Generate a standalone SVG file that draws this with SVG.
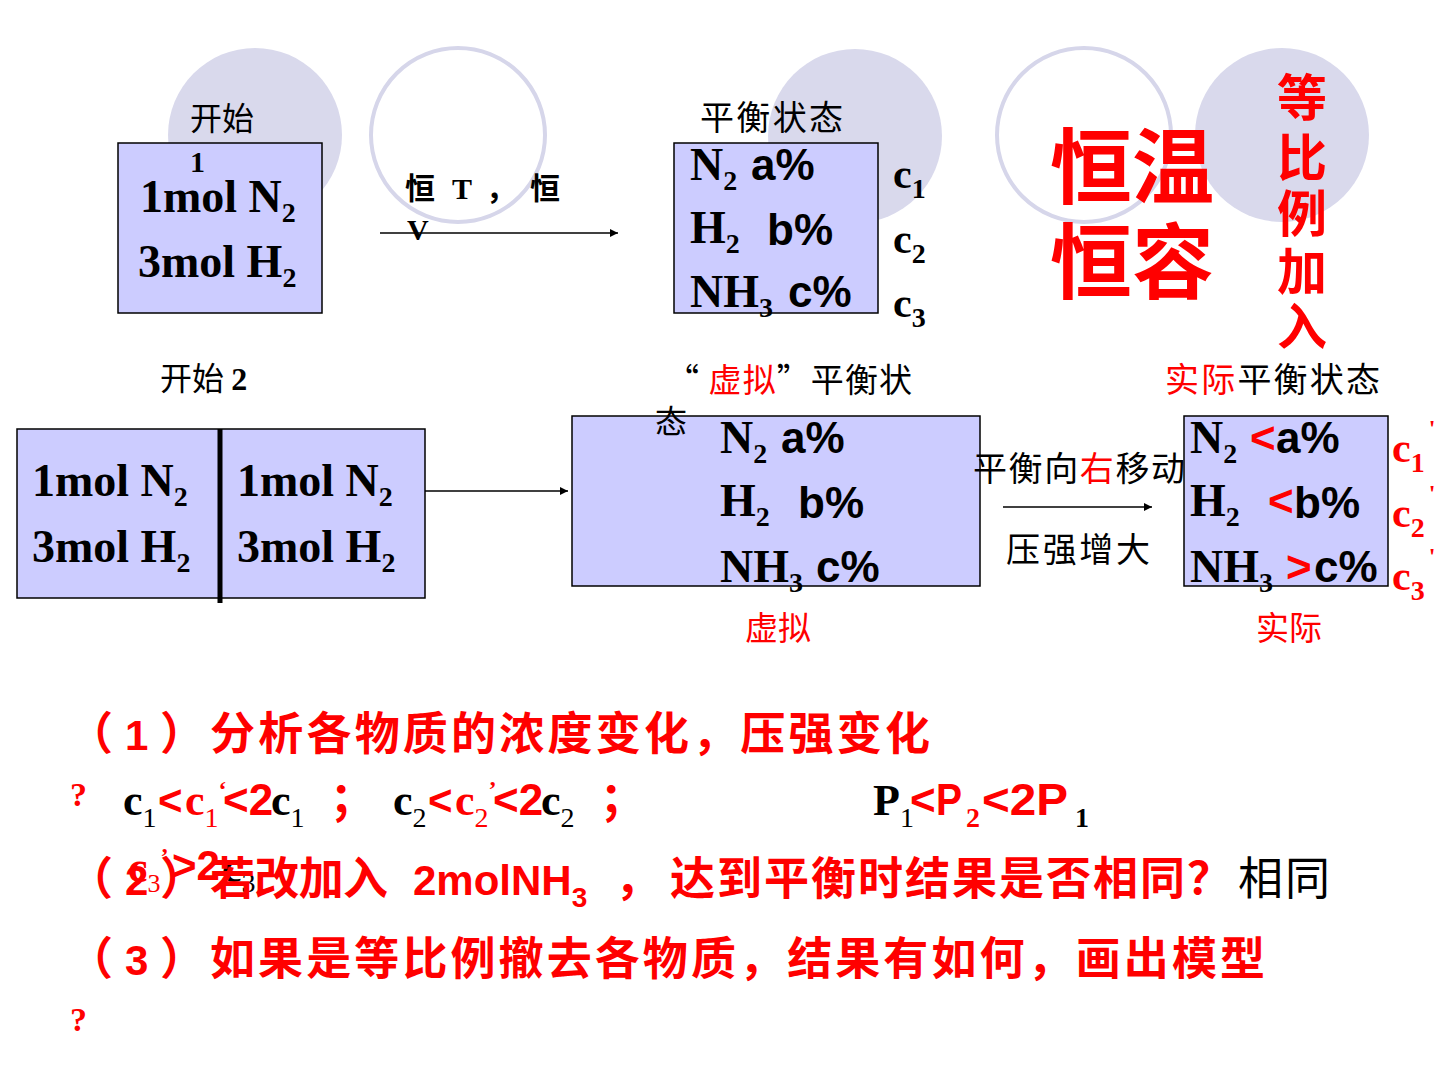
<svg xmlns="http://www.w3.org/2000/svg" width="1440" height="1080" viewBox="0 0 1440 1080">
<defs>
<marker id="ah" viewBox="0 0 10 10" refX="10" refY="5" markerWidth="10" markerHeight="8" markerUnits="userSpaceOnUse" orient="auto"><path d="M0,0 L10,5 L0,10 z" fill="#000"/></marker>
<style>
.cf{fill:#d9d9ec}
.co{fill:none;stroke:#d6d6ea;stroke-width:4}
.box{fill:#ccccff;stroke:#000;stroke-width:1.5}
.ser{font-family:"Liberation Serif","Noto Sans CJK SC",serif;font-weight:bold;fill:#000}
.san{font-family:"Liberation Sans","Noto Sans CJK SC",sans-serif;font-weight:bold;fill:#000}
.cjk{font-family:"Noto Sans CJK SC","Liberation Sans",sans-serif;fill:#000}
.q{font-family:"Noto Sans CJK SC","Liberation Sans",sans-serif;font-weight:bold;fill:#ff0000;font-size:45px}
.red{fill:#ff0000}
.line{stroke:#000;stroke-width:1.5;fill:none}
</style>
</defs>
<rect width="1440" height="1080" fill="#fff"/>
<g id="decor">
<circle class="cf" cx="255" cy="135" r="87"/>
<circle class="co" cx="458" cy="135" r="87"/>
<circle class="cf" cx="855" cy="136" r="87"/>
<circle class="co" cx="1084" cy="135" r="87"/>
<circle class="cf" cx="1282" cy="135" r="87"/>
</g>
<g id="connectors">
<line class="line" x1="380" y1="233" x2="618" y2="233" marker-end="url(#ah)"/>
<line class="line" x1="425" y1="491" x2="568" y2="491" marker-end="url(#ah)"/>
<line class="line" x1="1003" y1="507" x2="1152" y2="507" marker-end="url(#ah)"/>
</g>
<g id="start1">
<text class="cjk" x="190" y="130" font-size="32">开始</text>
<rect class="box" x="118" y="143" width="204" height="170"/>
<text class="ser" x="190" y="172" font-size="30">1</text>
<text class="ser" x="140" y="212" font-size="46">1mol N<tspan dy="10" font-size="28">2</tspan></text>
<text class="ser" x="138" y="277" font-size="46">3mol H<tspan dy="10" font-size="28">2</tspan></text>
</g>
<g id="label-TV">
<text class="cjk" x="405" y="199" font-size="30" font-weight="bold">恒</text>
<text class="ser" x="452" y="199" font-size="30">T</text>
<text class="cjk" x="486" y="199" font-size="30" font-weight="bold">，</text>
<text class="cjk" x="530" y="199" font-size="30" font-weight="bold">恒</text>
<text class="ser" x="407" y="240" font-size="30">V</text>
</g>
<g id="eq1">
<text class="cjk" x="700" y="130" font-size="34" textLength="143" lengthAdjust="spacing">平衡状态</text>
<rect class="box" x="674" y="143" width="204" height="170"/>
<text class="ser" x="690" y="180" font-size="46">N<tspan dy="10" font-size="28">2</tspan></text>
<text class="san" x="751" y="180" font-size="44">a%</text>
<text class="ser" x="690" y="243" font-size="46">H<tspan dy="10" font-size="28">2</tspan></text>
<text class="san" x="767" y="245" font-size="44">b%</text>
<text class="ser" x="690" y="307" font-size="46">NH<tspan dy="10" font-size="28">3</tspan></text>
<text class="san" x="788" y="307" font-size="44">c%</text>
<text class="ser" x="893" y="188" font-size="42">c<tspan dy="10" font-size="28">1</tspan></text>
<text class="ser" x="893" y="253" font-size="42">c<tspan dy="10" font-size="28">2</tspan></text>
<text class="ser" x="893" y="317" font-size="42">c<tspan dy="10" font-size="28">3</tspan></text>
</g>
<g id="title">
<text class="cjk red" x="1050" y="197" font-size="82" font-weight="bold">恒温</text>
<text class="cjk red" x="1050" y="292" font-size="82" font-weight="bold">恒容</text>
<g class="cjk red" font-size="50" font-weight="bold" text-anchor="middle">
<text x="1302" y="116">等</text>
<text x="1302" y="176">比</text>
<text x="1302" y="232">例</text>
<text x="1302" y="290">加</text>
<text x="1302" y="345">入</text>
</g>
</g>
<g id="start2">
<text class="cjk" x="160" y="390" font-size="32">开始 <tspan class="ser" font-size="32">2</tspan></text>
<rect class="box" x="17" y="429" width="408" height="169"/>
<line x1="220" y1="429" x2="220" y2="603" stroke="#000" stroke-width="5"/>
<text class="ser" x="32" y="496" font-size="46">1mol N<tspan dy="10" font-size="28">2</tspan></text>
<text class="ser" x="32" y="562" font-size="46">3mol H<tspan dy="10" font-size="28">2</tspan></text>
<text class="ser" x="237" y="496" font-size="46">1mol N<tspan dy="10" font-size="28">2</tspan></text>
<text class="ser" x="237" y="562" font-size="46">3mol H<tspan dy="10" font-size="28">2</tspan></text>
</g>
<g id="virtual">
<text class="cjk" x="666" y="392" font-size="33" textLength="246" lengthAdjust="spacing">“ <tspan class="red">虚拟</tspan>”平衡状</text>
<rect class="box" x="572" y="416" width="408" height="170"/>
<text class="cjk" x="655" y="433" font-size="32">态</text>
<text class="ser" x="720" y="453" font-size="46">N<tspan dy="10" font-size="28">2</tspan></text>
<text class="san" x="781" y="453" font-size="44">a%</text>
<text class="ser" x="720" y="516" font-size="46">H<tspan dy="10" font-size="28">2</tspan></text>
<text class="san" x="798" y="518" font-size="44">b%</text>
<text class="ser" x="720" y="582" font-size="46">NH<tspan dy="10" font-size="28">3</tspan></text>
<text class="san" x="816" y="582" font-size="44">c%</text>
<text class="cjk red" x="745" y="640" font-size="33">虚拟</text>
</g>
<g id="shift-label">
<text class="cjk" x="973" y="481" font-size="34" textLength="212" lengthAdjust="spacing">平衡向<tspan class="red">右</tspan>移动</text>
<text class="cjk" x="1006" y="562" font-size="34" textLength="144" lengthAdjust="spacing">压强增大</text>
</g>
<g id="actual">
<text class="cjk" x="1165" y="392" font-size="34" textLength="215" lengthAdjust="spacing"><tspan class="red">实际</tspan>平衡状态</text>
<rect class="box" x="1184" y="416" width="204" height="170"/>
<text class="ser" x="1190" y="453" font-size="46">N<tspan dy="10" font-size="28">2</tspan></text>
<text class="san red" x="1250" y="453" font-size="44">&lt;</text>
<text class="san" x="1276" y="453" font-size="44">a%</text>
<text class="ser" x="1190" y="516" font-size="46">H<tspan dy="10" font-size="28">2</tspan></text>
<text class="san red" x="1268" y="516" font-size="44">&lt;</text>
<text class="san" x="1294" y="518" font-size="44">b%</text>
<text class="ser" x="1190" y="582" font-size="46">NH<tspan dy="10" font-size="28">3</tspan></text>
<text class="san red" x="1286" y="582" font-size="44">&gt;</text>
<text class="san" x="1314" y="582" font-size="44">c%</text>
<text x="1392" y="462" class="ser red" font-size="42">c<tspan dy="10" font-size="28">1</tspan><tspan dy="-36" dx="4" font-size="24">'</tspan></text>
<text x="1392" y="527" class="ser red" font-size="42">c<tspan dy="10" font-size="28">2</tspan><tspan dy="-36" dx="4" font-size="24">'</tspan></text>
<text x="1392" y="590" class="ser red" font-size="42">c<tspan dy="10" font-size="28">3</tspan><tspan dy="-36" dx="4" font-size="24">'</tspan></text>
<text class="cjk red" x="1256" y="640" font-size="33">实际</text>
</g>
<g id="q1">
<text class="q" x="68" y="750">（</text>
<text class="san red" x="125" y="750" font-size="42">1</text>
<text class="q" x="160" y="750">）</text>
<text class="q" x="210" y="750" textLength="720" lengthAdjust="spacing">分析各物质的浓度变化，压强变化</text>
<text class="ser red" x="70" y="806" font-size="34" font-weight="normal">?</text>
<text class="ser" x="123" y="815" font-size="44">c<tspan dy="12" font-size="28" font-weight="normal">1</tspan></text>
<text class="san red" x="158" y="815" font-size="42">&lt;</text>
<text class="ser red" x="185" y="815" font-size="44">c<tspan dy="12" font-size="28" font-weight="normal">1</tspan><tspan dy="-30" font-size="24">‘</tspan></text>
<text class="san red" x="223" y="815" font-size="44">&lt;2</text>
<text class="ser" x="271" y="815" font-size="44">c<tspan dy="12" font-size="28" font-weight="normal">1</tspan></text>
<text class="q" x="330" y="815" font-size="30">；</text>
<text class="ser" x="393" y="815" font-size="44">c<tspan dy="12" font-size="28" font-weight="normal">2</tspan></text>
<text class="san red" x="428" y="815" font-size="42">&lt;</text>
<text class="ser red" x="455" y="815" font-size="44">c<tspan dy="12" font-size="28" font-weight="normal">2</tspan><tspan dy="-30" font-size="24">’</tspan></text>
<text class="san red" x="493" y="815" font-size="44">&lt;2</text>
<text class="ser" x="541" y="815" font-size="44">c<tspan dy="12" font-size="28" font-weight="normal">2</tspan></text>
<text class="q" x="600" y="815" font-size="30">；</text>
<text class="ser" x="873" y="815" font-size="44">P<tspan dy="12" font-size="28" font-weight="normal">1</tspan></text>
<text class="san red" x="910" y="815" font-size="44">&lt;</text>
<text class="san red" x="936" y="815" font-size="44" textLength="26" lengthAdjust="spacingAndGlyphs">P</text>
<text class="ser red" x="966" y="827" font-size="28" font-weight="normal">2</text>
<text class="san red" x="982" y="815" font-size="44" textLength="86" lengthAdjust="spacingAndGlyphs">&lt;2P</text>
<text class="ser" x="1075" y="827" font-size="28" font-weight="normal">1</text>
</g>
<g id="q2">
<text class="ser red" x="128" y="882" font-size="44">c<tspan dy="10" font-size="26" font-weight="normal">3</tspan><tspan dy="-28" font-size="24">’</tspan></text>
<text class="san red" x="172" y="880" font-size="42">&gt;2</text>
<text class="ser" x="222" y="882" font-size="44">c<tspan dy="10" font-size="28" font-weight="normal">3</tspan></text>
<text class="q" x="68" y="895">（</text>
<text class="san red" x="125" y="895" font-size="42">2</text>
<text class="q" x="160" y="895">）</text>
<text class="q" x="210" y="895" textLength="178" lengthAdjust="spacing">若改加入</text>
<text class="san red" x="413" y="895" font-size="42">2molNH<tspan dy="12" font-size="28">3</tspan></text>
<text class="q" x="615" y="895">，</text>
<text class="q" x="670" y="895" textLength="562" lengthAdjust="spacing">达到平衡时结果是否相同？</text>
<text class="cjk" x="1238" y="895" font-size="45" textLength="92" lengthAdjust="spacing">相同</text>
</g>
<g id="q3">
<text class="q" x="68" y="975">（</text>
<text class="san red" x="125" y="975" font-size="42">3</text>
<text class="q" x="160" y="975">）</text>
<text class="q" x="210" y="975" textLength="1055" lengthAdjust="spacing">如果是等比例撤去各物质，结果有如何，画出模型</text>
<text class="ser red" x="70" y="1031" font-size="34" font-weight="normal">?</text>
</g>
</svg>
